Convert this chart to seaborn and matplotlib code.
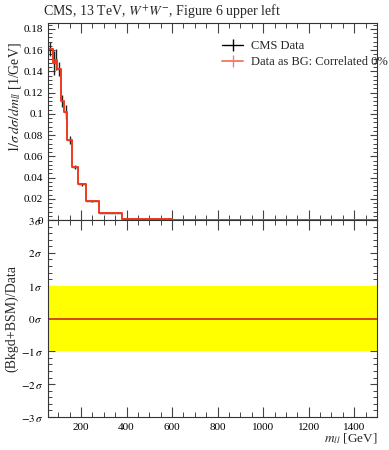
import numpy as np
import matplotlib
matplotlib.use("Agg")
import matplotlib.pyplot as plt
from matplotlib.ticker import MultipleLocator, FixedLocator, FixedFormatter
from matplotlib.lines import Line2D
import seaborn as sns

# === bins and values ===
bin_edges = [55, 75, 85, 95, 110, 125, 140, 160, 185, 220, 280, 380, 600, 1500]
dsig = [0.161, 0.148, 0.151, 0.142, 0.112, 0.102, 0.0755, 0.050, 0.0335,
        0.0175, 0.0070, 0.0012, 0.0001]
dsig_err = [0.0065, 0.011, 0.010, 0.0065, 0.006, 0.0065, 0.004, 0.002, 0.0015,
            0.0008, 0.0004, 0.0001, 0.00002]
pull_band = [-1, 1]
upper_ticks = [0, 0.02, 0.04, 0.06, 0.08, 0.1, 0.12, 0.14, 0.16, 0.18]
upper_labels = ["0", "0.02", "0.04", "0.06", "0.08", "0.1", "0.12", "0.14", "0.16", "0.18"]
lower_ticks = [-3, -2, -1, 0, 1, 2, 3]
lower_labels = [r"$-3\,\sigma$", r"$-2\,\sigma$", r"$-1\,\sigma$", r"$0\,\sigma$",
                r"$1\,\sigma$", r"$2\,\sigma$", r"$3\,\sigma$"]

sns.set_theme(style="ticks")
plt.rcParams["font.family"] = ["Liberation Serif", "DejaVu Serif"]
plt.rcParams["mathtext.fontset"] = "stix"

edges = np.array(bin_edges, dtype=float)
centers = 0.5 * (edges[:-1] + edges[1:])
half_w = 0.5 * (edges[1:] - edges[:-1])
red = "#ee3a1e"

fig = plt.figure(figsize=(3.89, 4.5), dpi=100)
ax1 = fig.add_axes([0.1234, 0.5111, 0.8458, 0.4378])
ax2 = fig.add_axes([0.1234, 0.0733, 0.8458, 0.4378], sharex=ax1)

# === upper panel ===
ax1.errorbar(centers, dsig, yerr=dsig_err, xerr=half_w, fmt="none",
             ecolor="#222222", elinewidth=1.0)
step_y = list(dsig) + [dsig[-1]]
sns.lineplot(x=edges, y=step_y, drawstyle="steps-post", color=red,
             linewidth=1.4, ax=ax1, legend=False)
ax1.set_xlim(55, 1500)
ax1.set_ylim(0, 0.1855)
ax1.yaxis.set_major_locator(FixedLocator(upper_ticks))
ax1.yaxis.set_major_formatter(FixedFormatter(upper_labels))
ax1.yaxis.set_minor_locator(MultipleLocator(0.004))
ax1.set_ylabel(r"$1/\sigma\, d\sigma/dm_{ll}$ [1/GeV]", fontsize=10)
ax1.yaxis.set_label_coords(-0.077, 0.62)
ax1.tick_params(labelbottom=False)
ax1.set_title(r"CMS, 13 TeV, $W^{+}W^{-}$, Figure 6 upper left", fontsize=10,
              loc="left", x=-0.015, pad=6)

handles = [
    Line2D([0], [0], color="black", lw=1.0, marker="|", markersize=9, markeredgewidth=1.0),
    Line2D([0], [0], color="#f4806a", lw=1.4, marker="|", markersize=9, markeredgewidth=1.0),
]
ax1.legend(handles, ["CMS Data", "Data as BG: Correlated 0%"], loc="upper left",
           bbox_to_anchor=(0.495, 0.97), frameon=False, fontsize=9,
           handlelength=1.7, handletextpad=0.6, labelspacing=0.3)

# === lower panel ===
ax2.fill_between([55, 1500], pull_band[0], pull_band[1], color="#ffff00", lw=0)
ax2.axhline(0, color="#cc2a10", lw=1.2)
ax2.set_ylim(-3, 3)
ax2.yaxis.set_major_locator(FixedLocator(lower_ticks))
ax2.yaxis.set_major_formatter(FixedFormatter(lower_labels))
ax2.yaxis.set_minor_locator(MultipleLocator(0.2))
ax2.set_ylabel("(Bkgd+BSM)/Data", fontsize=10)
ax2.yaxis.set_label_coords(-0.09, 0.5)
ax2.set_xlabel(r"$m_{ll}$ [GeV]", fontsize=9.5, loc="right", labelpad=0)
ax2.xaxis.set_major_locator(MultipleLocator(200))
ax2.xaxis.set_minor_locator(MultipleLocator(50))

for ax in (ax1, ax2):
    for s in ax.spines.values():
        s.set_color("#333333")
        s.set_linewidth(0.8)
    ax.tick_params(which="both", direction="in", top=True, right=True,
                   colors="#444444", labelcolor="black", labelsize=8)
    ax.tick_params(axis="x", which="major", length=7, width=0.8, pad=4)
    ax.tick_params(axis="x", which="minor", length=3.5, width=0.7)
    ax.tick_params(axis="y", which="major", length=5, width=0.8)
    ax.tick_params(axis="y", which="minor", length=2.8, width=0.7)

fig.savefig("out.png", dpi=100)
